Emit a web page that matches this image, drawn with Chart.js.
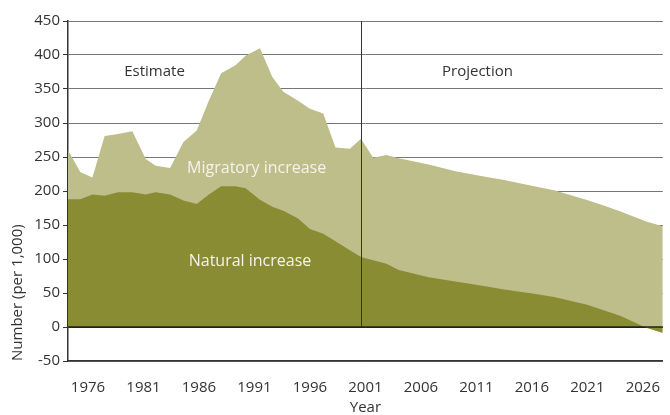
<!DOCTYPE html>
<html>
<head>
<meta charset="utf-8">
<script src="https://cdn.jsdelivr.net/npm/chart.js@4"></script>
<style>
  html, body { margin: 0; padding: 0; background: #fff; }
  #wrap { width: 670px; height: 415px; }
</style>
</head>
<body>
<div id="wrap"><canvas id="grafico" width="670" height="415"></canvas></div>
<script>
// DATOS

const years = [
  1974.2, 1975.3, 1976.4, 1977.5, 1978.7, 1980.0, 1981.2, 1982.1, 1983.4, 1984.6,
  1985.8, 1986.9, 1988.0, 1989.3, 1990.2, 1991.5, 1992.6, 1993.6, 1994.9, 1996.0,
  1997.2, 1998.3, 1999.6, 2000.6,
  2001.7, 2002.9, 2004.0, 2006.7, 2009.1, 2011.8, 2013.5, 2016.2, 2018.0, 2020.9,
  2022.4, 2024.0, 2026.3, 2027.8
];

// crecimiento natural
const natural = [
  188, 188, 195, 193, 198, 198, 195, 198, 195, 186,
  181, 195, 207, 207, 204, 187, 177, 171, 160, 144,
  137, 126, 113, 103,
  98, 93, 84, 73, 67, 60, 55, 49, 44, 33,
  25, 16, -1, -9
];

// total (natural + migratorio): borde superior del área clara
const total = [
  260, 228, 220, 281, 284, 288, 247, 237, 234, 272,
  289, 333, 373, 385, 399, 410, 368, 346, 333, 321,
  314, 264, 262, 277,
  249, 253, 248, 239, 229, 221, 216, 207, 201, 187,
  179, 170, 155, 148
];

const xTicks = [1976, 1981, 1986, 1991, 1996, 2001, 2006, 2011, 2016, 2021, 2026];
const yTicks = [-50, 0, 50, 100, 150, 200, 250, 300, 350, 400, 450];

const splitYear = 2000.6; // fin de la estimación

const FONT = "'Open Sans', 'DejaVu Sans', sans-serif";
const TEXT = "#333333";

function toPoints(vals) {
  return vals.map((v, i) => ({ x: years[i], y: v }));
}

// Líneas y textos encima de las áreas
const anotaciones = {
  id: "anotaciones",
  afterDatasetsDraw(chart) {
    const ctx = chart.ctx;
    const x = chart.scales.x;
    const y = chart.scales.y;
    const area = chart.chartArea;

    ctx.save();
    // línea del cero
    ctx.strokeStyle = "#222";
    ctx.lineWidth = 1.5;
    ctx.beginPath();
    ctx.moveTo(area.left, y.getPixelForValue(0));
    ctx.lineTo(area.right, y.getPixelForValue(0));
    ctx.stroke();

    // separación estimación / proyección
    const xs = Math.round(x.getPixelForValue(splitYear)) + 0.5;
    ctx.strokeStyle = "#333";
    ctx.lineWidth = 1;
    ctx.beginPath();
    ctx.moveTo(xs, y.getPixelForValue(450));
    ctx.lineTo(xs, y.getPixelForValue(0));
    ctx.stroke();

    ctx.textAlign = "center";
    ctx.textBaseline = "middle";
    ctx.font = "15px " + FONT;
    ctx.fillStyle = TEXT;
    ctx.fillText("Estimate", x.getPixelForValue(1982.0), y.getPixelForValue(375));
    ctx.fillText("Projection", x.getPixelForValue(2011.1), y.getPixelForValue(375));

    ctx.font = "16px " + FONT;
    ctx.fillStyle = "#f4f4ea";
    ctx.fillText("Migratory increase", x.getPixelForValue(1991.2), y.getPixelForValue(233));
    ctx.fillText("Natural increase", x.getPixelForValue(1990.6), y.getPixelForValue(97));
    ctx.restore();
  },
};

const ctx = document.getElementById("grafico").getContext("2d");

new Chart(ctx, {
  type: "line",
  data: {
    datasets: [
      {
        label: "Natural increase",
        data: toPoints(natural),
        backgroundColor: "#898c33",
        borderWidth: 0,
        pointRadius: 0,
        fill: "origin",
      },
      {
        label: "Migratory increase",
        data: toPoints(total),
        backgroundColor: "#bdbe8a",
        borderWidth: 0,
        pointRadius: 0,
        fill: "origin",
      },
    ],
  },
  options: {
    responsive: false,
    animation: false,
    layout: { padding: { top: 21, right: 0, left: 0, bottom: 0 } },
    plugins: {
      legend: { display: false },
      tooltip: { enabled: false },
    },
    scales: {
      x: {
        type: "linear",
        min: 1974.2,
        max: 2027.8,
        afterBuildTicks: (scale) => {
          scale.ticks = xTicks.map((v) => ({ value: v }));
        },
        afterFit: (scale) => {
          scale.height = 54;
        },
        grid: { display: false },
        border: { display: true, color: "#333", width: 1.5 },
        ticks: {
          color: TEXT,
          font: { family: FONT, size: 15 },
          padding: 10,
          maxRotation: 0,
          autoSkip: false,
          callback: (v) => String(v),
        },
        title: {
          display: true,
          text: "Year",
          color: TEXT,
          font: { family: FONT, size: 15, lineHeight: 1 },
          padding: { top: 0, bottom: 0 },
        },
      },
      y: {
        min: -50,
        max: 450,
        afterBuildTicks: (scale) => {
          scale.ticks = yTicks.map((v) => ({ value: v }));
        },
        afterFit: (scale) => {
          scale.width = 68;
        },
        grid: {
          color: (c) => (c.tick && c.tick.value === 0 ? "#222" : "#777"),
          lineWidth: 1,
          tickLength: 5,
          tickColor: "#333",
        },
        border: { display: true, color: "#333", width: 1.5 },
        ticks: {
          color: TEXT,
          font: { family: FONT, size: 15 },
          padding: 3,
          callback: (v) => String(v),
        },
        title: {
          display: true,
          text: "Number (per 1,000)",
          align: "start",
          color: TEXT,
          font: { family: FONT, size: 15, lineHeight: 1.2 },
          padding: { top: 9, bottom: 0 },
        },
      },
    },
  },
  plugins: [anotaciones],
});
</script>
</body>
</html>
